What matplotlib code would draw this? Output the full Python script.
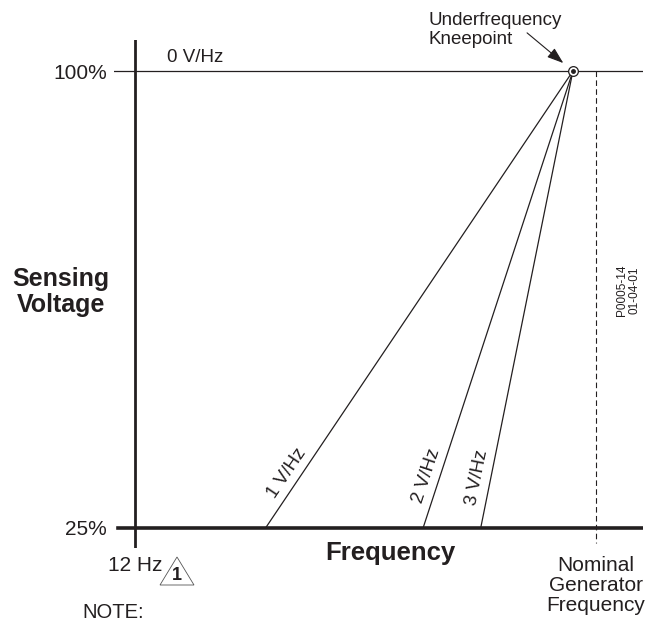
import matplotlib
matplotlib.use('Agg')
import matplotlib.pyplot as plt
from matplotlib.patches import Polygon
import numpy as np

plt.rcParams['font.family'] = ['Liberation Sans', 'DejaVu Sans']

# data
f_min = 12.0            # Hz, left end of frequency axis
f_nominal = 60.0        # nominal generator frequency (position only)
knee_freq = 57.6        # underfrequency kneepoint
v_low, v_high = 25, 100  # % sensing voltage
slope_labels = ['1 V/Hz', '2 V/Hz', '3 V/Hz']
slope_end_freq = [25.6, 42.0, 48.0]   # where each slope reaches 25 %

W, H = 648, 625
fig = plt.figure(figsize=(W / 100, H / 100), dpi=100)

def fx(px):
    return px / W

def fy(py):
    return 1 - py / H

# axes: pixel 114..643 horizontally, 40..548 vertically
ax = fig.add_axes([fx(114), fy(548), (643 - 114) / W, (548 - 40) / H])
ax.set_xlim(9.81, 64.9)
ax.set_ylim(21.7, 105.1)
for s in ax.spines.values():
    s.set_visible(False)

# axis lines
ax.axvline(f_min, color='#231f20', lw=2.0)
ax.axhline(v_high, color='#231f20', lw=0.9)
ax.axhline(v_low, xmin=(118 - 114) / (643 - 114), color='#231f20', lw=2.6)
ax.plot([f_nominal, f_nominal], [v_high, 22.5], color='#231f20', lw=0.8,
        ls=(0, (5, 3)))

# ticks
ax.set_yticks([v_low, v_high], ['25%', '100%'])
ax.set_xticks([f_min, f_nominal], ['12 Hz', 'Nominal\nGenerator\nFrequency'])
ax.tick_params(axis='y', length=0, pad=5, labelsize=15, colors='#231f20')
ax.tick_params(axis='x', length=0, pad=6, labelsize=15, colors='#231f20')
for lab in ax.get_xticklabels():
    lab.set_linespacing(1.05)

# V/Hz slope lines
for lab, f0 in zip(slope_labels, slope_end_freq):
    ax.plot([f0, knee_freq], [v_low, v_high], color='#231f20', lw=0.9)
    p0 = ax.transData.transform((f0, v_low))
    p1 = ax.transData.transform((knee_freq, v_high))
    d = (p1 - p0) / np.hypot(*(p1 - p0))
    ang = np.degrees(np.arctan2(d[1], d[0]))
    vy = 32.8
    fxl = f0 + (knee_freq - f0) * (vy - v_low) / (v_high - v_low)
    off = 9.4 * np.array([-d[1], d[0]])
    ax.annotate(lab, (fxl, vy), xytext=off, textcoords='offset points',
                rotation=ang, rotation_mode='anchor', ha='center', va='center',
                fontsize=13.5, color='#231f20')

# knee point marker
ax.plot([knee_freq], [v_high], marker='o', ms=7, mfc='white', mec='#231f20',
        mew=0.9, clip_on=False, zorder=5)
ax.plot([knee_freq], [v_high], marker='o', ms=2.5, color='#231f20',
        clip_on=False, zorder=6)
ax.annotate('', xy=(knee_freq, v_high), xytext=(-33, 27.5),
            textcoords='offset points',
            arrowprops=dict(arrowstyle='-|>,head_length=1.0,head_width=0.35',
                            mutation_scale=10, lw=0.8, color='#231f20',
                            shrinkA=0, shrinkB=9))

# texts
fig.text(fx(428), fy(12), 'Underfrequency\nKneepoint', ha='left', va='top',
         fontsize=13.5, linespacing=1.15, color='#231f20')
fig.text(fx(167), fy(57), '0 V/Hz', ha='left', va='center', fontsize=13.5,
         color='#231f20')
fig.text(fx(61), fy(292), 'Sensing\nVoltage', ha='center', va='center',
         fontsize=18, fontweight='bold', linespacing=1.1, color='#231f20')
fig.text(fx(390), fy(553), 'Frequency', ha='center', va='center',
         fontsize=18.5, fontweight='bold', color='#231f20')
fig.text(fx(82), fy(613), 'NOTE:', ha='left', va='center', fontsize=14.5,
         color='#231f20')
fig.text(fx(628), fy(290), 'P0005-14\n01-04-01', ha='center', va='center',
         rotation=90, fontsize=8.5, linespacing=1.1, color='#231f20')

# note triangle
tri = Polygon([(fx(160), fy(585)), (fx(194), fy(585)), (fx(177), fy(557))],
              closed=True, fill=False, edgecolor='#555555', lw=0.6,
              transform=fig.transFigure)
fig.patches.append(tri)
fig.text(fx(177), fy(576), '1', ha='center', va='center', fontsize=13,
         fontweight='bold', color='#231f20')

fig.savefig('out.png', dpi=100)
